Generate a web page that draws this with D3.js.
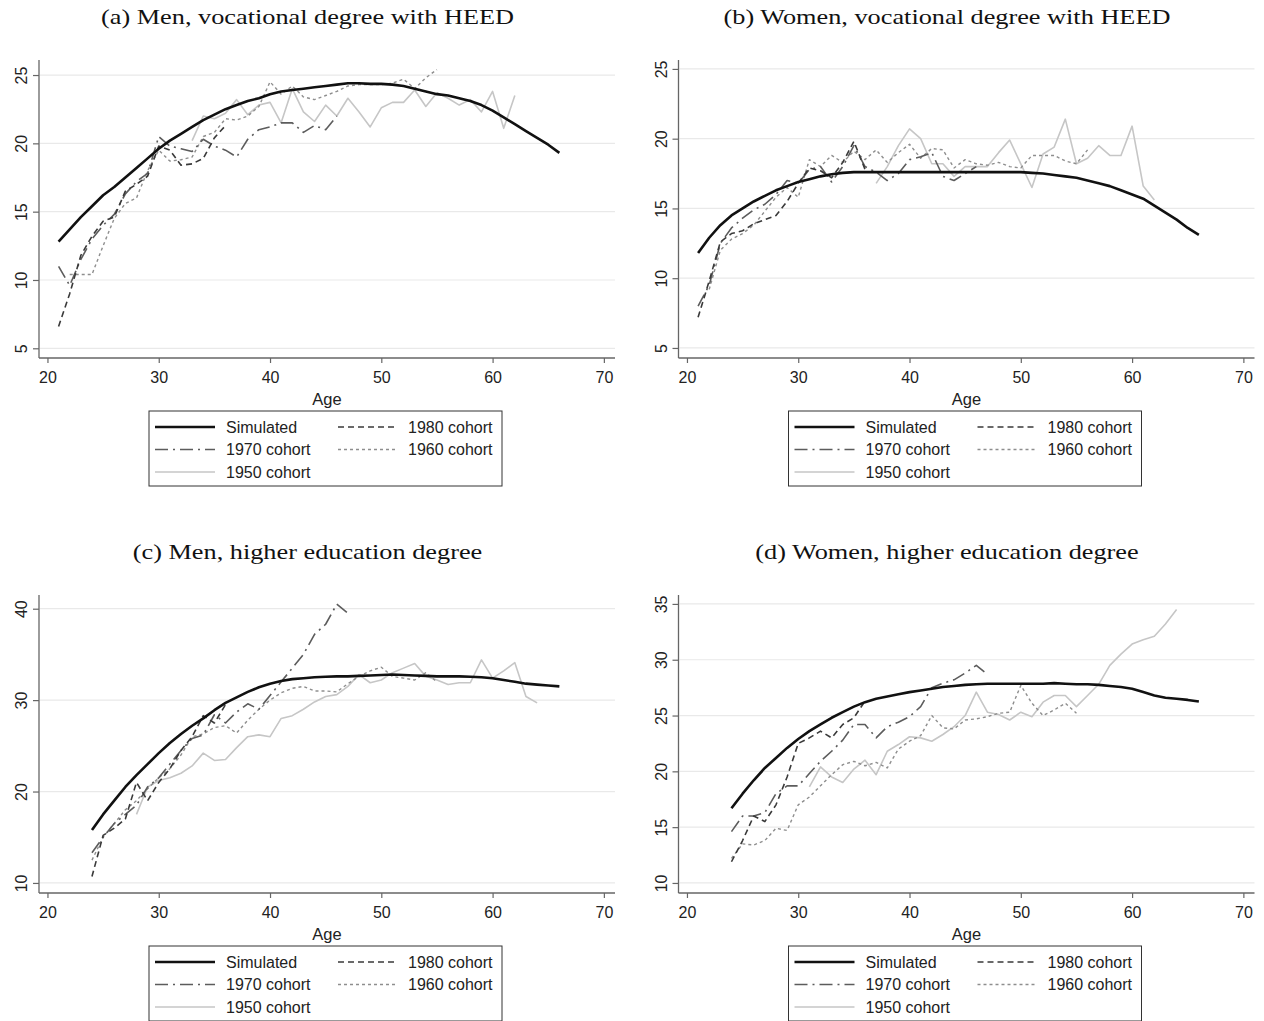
<!DOCTYPE html>
<html><head><meta charset="utf-8">
<script src="https://cdn.jsdelivr.net/npm/d3@7"></script>
<style>body{margin:0;background:#fff;} text{font-family:"Liberation Sans",Arial,sans-serif;}</style>
</head><body>
<script>
// ---------- data ----------
const titles = ["(a) Men, vocational degree with HEED","(b) Women, vocational degree with HEED","(c) Men, higher education degree","(d) Women, higher education degree"];
const xTicks = [20,30,40,50,60,70];
const yTicksA = [5,10,15,20,25];
const yTicksB = [5,10,15,20,25];
const yTicksC = [10,20,30,40];
const yTicksD = [10,15,20,25,30,35];
const seriesNames = ["Simulated","1980 cohort","1970 cohort","1960 cohort","1950 cohort"];

// panel (a) — first age, values
const a_sim_start = 21;
const a_sim = [12.8,13.7,14.6,15.4,16.2,16.8,17.5,18.2,18.9,19.6,20.2,20.7,21.2,21.7,22.1,22.5,22.8,23.1,23.3,23.6,23.8,23.9,24.0,24.1,24.2,24.3,24.4,24.4,24.35,24.35,24.3,24.2,24.0,23.8,23.6,23.5,23.3,23.1,22.8,22.4,21.9,21.4,20.9,20.4,19.9,19.3];
const a_1980_start = 21;
const a_1980 = [6.6,9.0,11.8,13.2,14.3,14.6,16.5,17.0,17.6,19.8,19.5,18.4,18.5,18.9,20.4,21.3];
const a_1970_start = 21;
const a_1970 = [11.0,9.6,11.5,13.0,14.0,14.8,16.3,17.2,17.8,20.5,19.8,19.6,19.4,20.3,19.8,19.5,19.0,20.3,21.0,21.2,21.5,21.5,20.8,21.3,21.0,22.0];
const a_1960_start = 22;
const a_1960 = [10.4,10.4,10.4,12.5,14.5,15.6,16.0,18.0,19.5,18.7,18.8,19.0,20.5,20.8,21.8,21.7,22.0,22.7,24.5,23.6,24.2,23.4,23.2,23.5,23.8,24.2,24.3,24.3,24.3,24.4,24.7,24.0,24.8,25.4];
const a_1950_start = 33;
const a_1950 = [20.2,22.0,21.8,22.2,23.2,22.1,22.8,23.0,21.5,24.0,22.3,21.6,22.8,22.0,23.3,22.3,21.2,22.6,23.0,23.0,23.9,22.7,23.7,23.3,22.8,23.2,22.3,23.8,21.1,23.5];

// panel (b)
const b_sim_start = 21;
const b_sim = [11.8,12.9,13.8,14.5,15.0,15.5,15.9,16.3,16.6,16.9,17.1,17.3,17.45,17.55,17.6,17.6,17.6,17.6,17.6,17.6,17.6,17.6,17.6,17.6,17.6,17.6,17.6,17.6,17.6,17.6,17.55,17.5,17.4,17.3,17.2,17.0,16.8,16.6,16.3,16.0,15.7,15.2,14.7,14.2,13.6,13.1];
const b_1980_start = 21;
const b_1980 = [7.2,9.8,12.6,13.2,13.4,13.9,14.2,14.5,15.5,16.8,17.9,17.7,17.2,18.3,19.8,17.8];
const b_1970_start = 21;
const b_1970 = [8.0,9.5,12.5,13.6,14.3,14.9,15.3,16.0,17.0,16.8,17.8,18.0,16.9,18.0,19.5,18.0,17.6,17.0,17.5,18.5,18.7,19.0,17.3,17.0,17.5,18.0];
const b_1960_start = 22;
const b_1960 = [9.2,12.0,12.8,13.2,13.8,14.8,15.8,16.5,15.8,18.5,18.0,18.8,18.3,19.1,18.5,19.2,18.3,19.0,19.6,18.6,19.3,19.2,17.9,18.5,18.2,18.1,18.3,18.0,17.9,18.8,18.8,18.8,18.4,18.2,19.2];
const b_1950_start = 37;
const b_1950 = [16.8,18.0,19.5,20.7,20.0,18.2,18.2,17.3,18.0,18.0,18.0,19.0,19.9,18.2,16.5,18.9,19.4,21.4,18.2,18.6,19.5,18.8,18.8,20.9,16.6,15.6];

// panel (c)
const c_sim_start = 24;
const c_sim = [15.8,17.5,19.0,20.5,21.8,23.0,24.2,25.3,26.3,27.2,28.0,28.9,29.7,30.3,30.9,31.4,31.8,32.1,32.3,32.4,32.5,32.55,32.6,32.6,32.65,32.7,32.75,32.8,32.75,32.7,32.65,32.6,32.6,32.6,32.55,32.5,32.4,32.2,32.0,31.8,31.7,31.6,31.5];
const c_1980_start = 24;
const c_1980 = [10.7,15.2,16.0,17.0,21.0,19.0,21.0,22.5,24.5,26.0,28.3,27.5,29.5];
const c_1970_start = 24;
const c_1970 = [13.3,15.0,16.5,17.5,18.5,20.5,21.5,23.0,24.5,25.8,26.2,28.4,27.5,28.7,29.6,29.0,30.5,32.0,33.5,35.0,37.2,38.3,40.5,39.5];
const c_1960_start = 24;
const c_1960 = [12.5,15.0,16.5,18.0,19.0,20.3,21.5,22.5,24.0,26.0,26.3,27.0,27.2,26.4,27.8,29.0,30.0,30.8,31.3,31.5,31.0,31.0,30.9,31.8,32.6,33.2,33.6,32.6,32.4,32.2,33.0,32.0];
const c_1950_start = 28;
const c_1950 = [17.5,20.5,21.2,21.5,22.0,22.8,24.2,23.4,23.5,24.8,26.0,26.2,26.0,28.0,28.3,29.0,29.8,30.4,30.6,31.5,32.8,31.9,32.2,33.0,33.5,34.0,32.6,32.2,31.7,31.9,31.9,34.4,32.4,33.2,34.1,30.4,29.7];

// panel (d)
const d_sim_start = 24;
const d_sim = [16.7,18.0,19.2,20.3,21.2,22.1,22.9,23.6,24.2,24.8,25.3,25.8,26.2,26.5,26.7,26.9,27.1,27.25,27.4,27.55,27.65,27.75,27.8,27.85,27.85,27.85,27.85,27.85,27.85,27.9,27.85,27.8,27.8,27.75,27.65,27.55,27.4,27.1,26.8,26.6,26.5,26.4,26.25];
const d_1980_start = 24;
const d_1980 = [11.9,13.8,16.0,15.5,17.0,19.5,22.5,23.0,23.6,23.0,24.2,24.8,26.3];
const d_1970_start = 24;
const d_1970 = [14.6,16.0,16.0,16.3,18.0,18.7,18.7,19.8,20.9,21.8,22.8,24.2,24.2,23.0,24.0,24.4,24.9,25.8,27.5,27.9,28.2,28.8,29.5,28.7];
const d_1960_start = 24;
const d_1960 = [12.2,13.5,13.4,13.8,14.9,14.7,17.0,17.7,18.7,19.7,20.6,20.9,20.5,20.8,20.3,22.0,22.7,23.2,25.0,23.9,23.8,24.6,24.7,24.9,25.2,25.3,27.7,26.1,25.0,25.5,26.1,25.2];
const d_1950_start = 31;
const d_1950 = [18.6,20.4,19.5,19.0,20.2,21.0,19.7,21.8,22.4,23.1,23.0,22.7,23.3,24.0,25.0,27.1,25.3,25.1,24.6,25.3,24.9,26.2,26.8,26.8,25.8,26.8,27.8,29.5,30.5,31.4,31.8,32.1,33.2,34.5];

// ---------- layout / style ----------
const W = 1264, H = 1021;
const styles = {
  "Simulated":   {color:"#111", width:2.6, dash:null},
  "1980 cohort": {color:"#3a3a3a", width:1.6, dash:"6,4"},
  "1970 cohort": {color:"#5c5c5c", width:1.6, dash:"13,5,2,5"},
  "1960 cohort": {color:"#8e8e8e", width:1.4, dash:"3,3"},
  "1950 cohort": {color:"#c6c6c6", width:1.6, dash:null}
};
function ser(start, vals){ return vals.map((v,i)=>({age:start+i, v:v})); }

const panels = [
  {title:titles[0], col:0,row:0, yDom:[4.29,26.1], yTicks:yTicksA,
   data:{"Simulated":ser(a_sim_start,a_sim),"1980 cohort":ser(a_1980_start,a_1980),"1970 cohort":ser(a_1970_start,a_1970),"1960 cohort":ser(a_1960_start,a_1960),"1950 cohort":ser(a_1950_start,a_1950)}},
  {title:titles[1], col:1,row:0, yDom:[4.28,25.64], yTicks:yTicksB,
   data:{"Simulated":ser(b_sim_start,b_sim),"1980 cohort":ser(b_1980_start,b_1980),"1970 cohort":ser(b_1970_start,b_1970),"1960 cohort":ser(b_1960_start,b_1960),"1950 cohort":ser(b_1950_start,b_1950)}},
  {title:titles[2], col:0,row:1, yDom:[8.9,41.5], yTicks:yTicksC,
   data:{"Simulated":ser(c_sim_start,c_sim),"1980 cohort":ser(c_1980_start,c_1980),"1970 cohort":ser(c_1970_start,c_1970),"1960 cohort":ser(c_1960_start,c_1960),"1950 cohort":ser(c_1950_start,c_1950)}},
  {title:titles[3], col:1,row:1, yDom:[9.1,35.8], yTicks:yTicksD,
   data:{"Simulated":ser(d_sim_start,d_sim),"1980 cohort":ser(d_1980_start,d_1980),"1970 cohort":ser(d_1970_start,d_1970),"1960 cohort":ser(d_1960_start,d_1960),"1950 cohort":ser(d_1950_start,d_1950)}}
];

const svg = d3.select("body").append("svg").attr("width",W).attr("height",H)
  .style("display","block");
svg.append("rect").attr("width",W).attr("height",H).attr("fill","#fff");

const serifFont = "'Liberation Serif','Times New Roman',serif";
// widen serif titles so that title (a) spans the same width as in the original typesetting
const probe = svg.append("text").attr("font-size",22).style("font-family",serifFont).text(titles[0]);
const titleK = 413 / probe.node().getComputedTextLength();
probe.remove();

panels.forEach(p=>{
  const ox = p.col*639.5, oy = p.row*535;
  const L = 39, R = 615, T = 60, B = 358;
  const g = svg.append("g").attr("transform",`translate(${ox},${oy})`);
  const x = d3.scaleLinear().domain([19.24,71]).range([L,R]);
  const y = d3.scaleLinear().domain(p.yDom).range([B,T]);

  // title
  const t = g.append("text").attr("x",307.5).attr("y",23.5).attr("text-anchor","middle")
    .attr("font-size",22).attr("fill","#111")
    .style("font-family",serifFont).text(p.title);
  const tw = t.node().getComputedTextLength();
  t.attr("textLength", tw*titleK).attr("lengthAdjust","spacingAndGlyphs");

  // gridlines
  g.append("g").selectAll("line").data(p.yTicks).join("line")
    .attr("x1",L+1).attr("x2",R).attr("y1",d=>y(d)).attr("y2",d=>y(d))
    .attr("stroke","#e9e9e9").attr("stroke-width",1.2);

  // y axis
  const ya = g.append("g").attr("transform",`translate(${L},0)`)
    .call(d3.axisLeft(y).tickValues(p.yTicks).tickSize(6).tickSizeOuter(0).tickFormat(d3.format("d")));
  ya.select(".domain").attr("stroke","#666").attr("stroke-width",1.3).attr("d",`M0,${T}V${B}`);
  ya.selectAll(".tick line").attr("stroke","#666").attr("stroke-width",1.2);
  ya.selectAll(".tick text").attr("x",0).attr("dy",0).attr("text-anchor","middle")
    .attr("transform","translate(-12,0) rotate(-90)")
    .attr("font-size",16).attr("fill","#222").style("font-family","'Liberation Sans',Arial,sans-serif");

  // x axis
  const xa = g.append("g").attr("transform",`translate(0,${B})`)
    .call(d3.axisBottom(x).tickValues(xTicks).tickSize(5).tickSizeOuter(0).tickPadding(9).tickFormat(d3.format("d")));
  xa.select(".domain").attr("stroke","#666").attr("stroke-width",1.3).attr("d",`M${L},0H${R}`);
  xa.selectAll(".tick line").attr("stroke","#666").attr("stroke-width",1.2);
  xa.selectAll(".tick text").attr("font-size",16).attr("fill","#222").style("font-family","'Liberation Sans',Arial,sans-serif");

  g.append("text").attr("x",(L+R)/2).attr("y",405).attr("text-anchor","middle")
    .attr("font-size",16.5).attr("fill","#222").text("Age");

  // lines
  const line = d3.line().x(d=>x(d.age)).y(d=>y(d.v));
  ["1950 cohort","1960 cohort","1970 cohort","1980 cohort","Simulated"].forEach(name=>{
    const s = styles[name];
    g.append("path").datum(p.data[name]).attr("d",line).attr("fill","none")
      .attr("stroke",s.color).attr("stroke-width",s.width)
      .attr("stroke-dasharray",s.dash).attr("stroke-linejoin","round");
  });

  // legend
  const lg = g.append("g");
  lg.append("rect").attr("x",149).attr("y",411).attr("width",353).attr("height",75)
    .attr("fill","#fff").attr("stroke","#333").attr("stroke-width",1);
  const pos = {"Simulated":[0,0],"1980 cohort":[1,0],"1970 cohort":[0,1],"1960 cohort":[1,1],"1950 cohort":[0,2]};
  seriesNames.forEach(name=>{
    const [c,r] = pos[name]; const s = styles[name];
    const lx = c===0 ? 155 : 338, tx = c===0 ? 226 : 408;
    const cy = 427 + r*22.5;
    lg.append("line").attr("x1",lx).attr("x2",lx+60).attr("y1",cy).attr("y2",cy)
      .attr("stroke",s.color).attr("stroke-width",s.width).attr("stroke-dasharray",s.dash);
    lg.append("text").attr("x",tx).attr("y",cy+5.5).attr("font-size",16).attr("fill","#222").text(name);
  });
});
</script>
</body></html>
